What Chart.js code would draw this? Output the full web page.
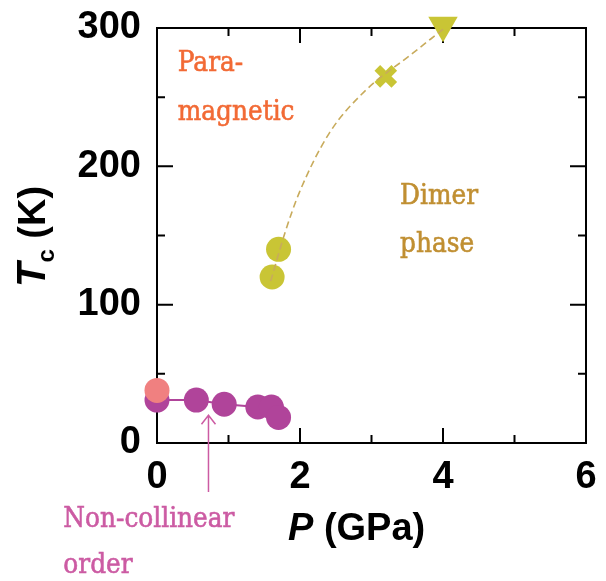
<!DOCTYPE html>
<html>
<head>
<meta charset="utf-8">
<script src="https://cdn.jsdelivr.net/npm/chart.js@4.4.1/dist/chart.umd.min.js"></script>
<style>
  html, body { margin: 0; padding: 0; background: #fff; }
  #wrap { width: 606px; height: 581px; }
</style>
</head>
<body>
<div id="wrap"><canvas id="chart" width="606" height="581"></canvas></div>
<script>
// data: P in GPa, Tc in K
const orderP = [0, 0.55, 0.94, 1.41, 1.6, 1.7];
const orderT = [31, 31, 28, 26, 26, 18.5];
const paraP = [0];
const paraT = [38];
const dimerP = [1.61, 1.7];
const dimerT = [120, 140];
const crossP = [3.2];
const crossT = [265];
const triP = [4.0];
const triT = [302];
const guideP = [1.59, 1.79, 1.99, 2.41, 2.92, 3.52, 4.0];
const guideT = [117, 152, 181, 224, 255, 279.5, 299];

const MAGENTA = '#b0449a';
const PINK = '#f08080';
const YELLOW = '#c9c535';
const GUIDE = '#c8ab5c';
const SANS = '"Liberation Sans", Arial, sans-serif';
const SERIF = '"DejaVu Serif", serif';

function pts(xs, ys) {
    return xs.map((x, i) => ({ x: x, y: ys[i] }));
}

// serif phase label, slightly narrowed and thickened to look like the original face
function label(ctx, text, x, y, color) {
    ctx.save();
    ctx.translate(x, y);
    ctx.scale(0.92, 1);
    ctx.font = '27px ' + SERIF;
    ctx.fillStyle = color;
    ctx.strokeStyle = color;
    ctx.lineWidth = 0.6;
    ctx.fillText(text, 0, 0);
    ctx.strokeText(text, 0, 0);
    ctx.restore();
}

// frame + inward ticks on all four sides, titles and annotations
const framePlugin = {
    id: 'frame',
    beforeDatasetsDraw(chart) {
        const { ctx, chartArea: a, scales } = chart;
        const xs = scales.x, ys = scales.y;
        ctx.save();
        ctx.strokeStyle = '#000';
        ctx.lineWidth = 2;
        ctx.strokeRect(a.left, a.top, a.right - a.left, a.bottom - a.top);
        ctx.beginPath();
        for (let v = 1; v < 6; v++) {
            const px = xs.getPixelForValue(v);
            const len = v % 2 === 0 ? 15 : 8;
            ctx.moveTo(px, a.bottom); ctx.lineTo(px, a.bottom - len);
            ctx.moveTo(px, a.top); ctx.lineTo(px, a.top + len);
        }
        for (let v = 50; v < 300; v += 50) {
            const py = ys.getPixelForValue(v);
            const len = v % 100 === 0 ? 16 : 8;
            ctx.moveTo(a.left, py); ctx.lineTo(a.left + len, py);
            ctx.moveTo(a.right, py); ctx.lineTo(a.right - len, py);
        }
        ctx.stroke();
        ctx.restore();
    },
    afterDraw(chart) {
        const { ctx, scales } = chart;
        const xs = scales.x, ys = scales.y;
        ctx.save();
        ctx.fillStyle = '#000';
        ctx.textBaseline = 'alphabetic';
        ctx.textAlign = 'left';

        // x title: P (GPa)
        let x = 288, y = 540;
        ctx.font = 'italic bold 38px ' + SANS;
        ctx.fillText('P', x, y);
        x += ctx.measureText('P').width;
        ctx.font = 'bold 38px ' + SANS;
        ctx.fillText(' (GPa)', x, y);

        // y title: Tc (K)
        ctx.translate(45, 287);
        ctx.rotate(-Math.PI / 2);
        ctx.font = 'italic bold 40px ' + SANS;
        ctx.fillText('T', 0, 0);
        let tx = ctx.measureText('T').width;
        ctx.font = 'bold 24px ' + SANS;
        ctx.fillText('c', tx, 9);
        tx += ctx.measureText('c').width;
        ctx.font = 'bold 38px ' + SANS;
        ctx.fillText(' (K)', tx, 0);
        ctx.setTransform(1, 0, 0, 1, 0, 0);

        // phase labels
        let lx = xs.getPixelForValue(0.29), ly = ys.getPixelForValue(269);
        label(ctx, 'Para-', lx, ly, '#f26a35');
        label(ctx, 'magnetic', lx, ly + 49, '#f26a35');

        lx = xs.getPixelForValue(3.4); ly = ys.getPixelForValue(173);
        label(ctx, 'Dimer', lx, ly, '#c08f32');
        label(ctx, 'phase', lx, ly + 48, '#c08f32');

        lx = xs.getPixelForValue(-1.31); ly = ys.getPixelForValue(-61);
        label(ctx, 'Non-collinear', lx, ly, '#cc5ba3');
        label(ctx, 'order', lx, ly + 46, '#cc5ba3');

        // arrow to the non-collinear points
        const ax = xs.getPixelForValue(0.72);
        const tip = ys.getPixelForValue(20);
        const tail = ys.getPixelForValue(-35.5);
        ctx.strokeStyle = '#cc5ba3';
        ctx.lineWidth = 1.5;
        ctx.beginPath();
        ctx.moveTo(ax, tail); ctx.lineTo(ax, tip);
        ctx.moveTo(ax - 7, tip + 9); ctx.lineTo(ax, tip); ctx.lineTo(ax + 7, tip + 9);
        ctx.stroke();
        ctx.restore();
    }
};

new Chart(document.getElementById('chart').getContext('2d'), {
    type: 'scatter',
    data: {
        datasets: [
            {
                data: pts(paraP, paraT),
                pointRadius: 12.5, pointBackgroundColor: PINK, pointBorderWidth: 0,
                order: 0, clip: false
            },
            {
                data: pts(orderP, orderT),
                showLine: true, borderColor: MAGENTA, borderWidth: 2,
                pointRadius: 12.5, pointBackgroundColor: MAGENTA, pointBorderWidth: 0,
                order: 1, clip: false
            },
            {
                data: pts(guideP, guideT),
                showLine: true, borderColor: GUIDE, borderWidth: 1.6, borderDash: [7, 4],
                cubicInterpolationMode: 'monotone', pointRadius: 0,
                order: 2, clip: false
            },
            {
                data: pts(crossP, crossT),
                pointStyle: 'crossRot', pointRadius: 12, pointBorderWidth: 8,
                pointBorderColor: YELLOW, pointBackgroundColor: YELLOW,
                order: 3, clip: false
            },
            {
                data: pts(triP, triT),
                pointStyle: 'triangle', rotation: 180, pointRadius: 17, pointBorderWidth: 0,
                pointBackgroundColor: YELLOW,
                order: 3, clip: false
            },
            {
                data: pts(dimerP, dimerT),
                pointRadius: 12.5, pointBackgroundColor: YELLOW, pointBorderWidth: 0,
                order: 4, clip: false
            }
        ]
    },
    options: {
        responsive: false,
        devicePixelRatio: 1,
        animation: false,
        events: [],
        layout: { padding: { top: 28, right: 17, left: 0, bottom: 0 } },
        plugins: { legend: { display: false }, tooltip: { enabled: false } },
        scales: {
            x: {
                type: 'linear', min: 0, max: 6,
                grid: { display: false, drawTicks: false }, border: { display: false },
                ticks: { stepSize: 2, color: '#000', padding: 12, font: { family: SANS, size: 38, weight: 'bold' } },
                afterFit: s => { s.height = 138; s.paddingLeft = 0; s.paddingRight = 0; }
            },
            y: {
                type: 'linear', min: 0, max: 300,
                grid: { display: false, drawTicks: false }, border: { display: false },
                ticks: { stepSize: 100, color: '#000', padding: 16, font: { family: SANS, size: 38, weight: 'bold' } },
                afterFit: s => { s.width = 157; s.paddingTop = 0; s.paddingBottom = 0; }
            }
        }
    },
    plugins: [framePlugin]
});
</script>
</body>
</html>
